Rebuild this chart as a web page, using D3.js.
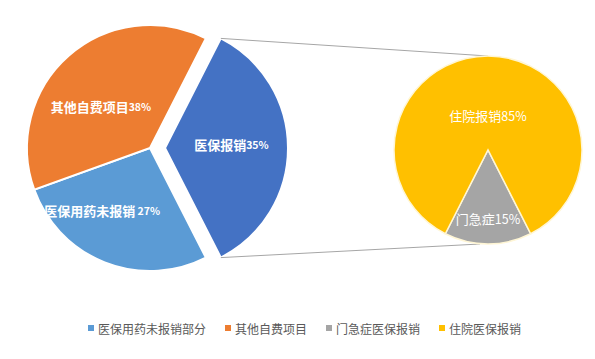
<!DOCTYPE html>
<html>
<head>
<meta charset="utf-8">
<script src="https://cdn.jsdelivr.net/npm/d3@7"></script>
<style>
  html, body { margin: 0; padding: 0; background: #fff; }
  svg { display: block; }
</style>
</head>
<body>
<svg id="chart" width="595" height="359"></svg>
<script>
// ---- data ----
const leftNames  = ["医保报销", "医保用药未报销", "其他自费项目"];
const leftValues = [35, 27, 38];
const leftPctText = ["35%", " 27%", "38%"];
const rightNames  = ["门急症", "住院报销"];
const rightValues = [15, 85];
const rightPctText = ["15%", "85%"];
const legendLabels = ["医保用药未报销部分", "其他自费项目", "门急症医保报销", "住院医保报销"];

// ---- styles ----
const leftColors  = ["#4472C4", "#5B9BD5", "#ED7D31"];
const rightColors = ["#A5A5A5", "#FFC000"];
const legendColors = ["#5B9BD5", "#ED7D31", "#A5A5A5", "#FFC000"];
const font = "'Noto Sans CJK SC', 'Noto Sans', sans-serif";

const svg = d3.select("#chart");
const deg = Math.PI / 180;

// ---- left pie ----
const L = { cx: 150, cy: 148, r: 123, explode: 15 };
const leftStart = 90 * deg - (leftValues[0] / 100) * Math.PI;
const leftPie = d3.pie().sort(null).value(d => d)
  .startAngle(leftStart).endAngle(leftStart + 2 * Math.PI);
const leftArcs = leftPie(leftValues);
const leftArc = d3.arc().innerRadius(0).outerRadius(L.r);

const gL = svg.append("g").attr("transform", `translate(${L.cx},${L.cy})`);
const offsetOf = (d, i) => {
  if (i !== 0) return [0, 0];
  const m = (d.startAngle + d.endAngle) / 2;
  return [L.explode * Math.sin(m), -L.explode * Math.cos(m)];
};
gL.selectAll("path").data(leftArcs).join("path")
  .attr("d", leftArc)
  .attr("transform", (d, i) => { const o = offsetOf(d, i); return `translate(${o[0]},${o[1]})`; })
  .attr("fill", (d, i) => leftColors[i])
  .attr("stroke", "#fff").attr("stroke-width", 2);

// label placement (radius fraction + nudge)
const leftLabelR = [0.54, 0.55, 0.53];
const leftLabelNudge = [[0, -4], [-23, -1], [-6, 7]];
const leftLabelPos = leftArcs.map((d, i) => {
  const o = offsetOf(d, i);
  const m = (d.startAngle + d.endAngle) / 2;
  const rr = L.r * leftLabelR[i];
  return [rr * Math.sin(m) + o[0] + leftLabelNudge[i][0], -rr * Math.cos(m) + o[1] + leftLabelNudge[i][1]];
});
gL.selectAll("text.lbl").data(leftArcs).join("text").attr("class", "lbl")
  .attr("x", (d, i) => leftLabelPos[i][0])
  .attr("y", (d, i) => leftLabelPos[i][1])
  .attr("text-anchor", "middle").attr("dominant-baseline", "central")
  .attr("font-family", font).attr("font-weight", "bold").attr("font-size", 13)
  .attr("fill", "#fff")
  .each(function(d, i) {
    const t = d3.select(this);
    t.append("tspan").text(leftNames[i]);
    t.append("tspan").attr("font-size", 10.5).text(leftPctText[i]);
  });

// ---- right pie ----
const R = { cx: 488, cy: 150, r: 94 };
const rStart = 180 * deg - (rightValues[0] / 100) * Math.PI;
const rightPie = d3.pie().sort(null).value(d => d)
  .startAngle(rStart).endAngle(rStart + 2 * Math.PI);
const rightArcs = rightPie(rightValues);
const rightArc = d3.arc().innerRadius(0).outerRadius(R.r);

// ---- connector lines ----
const b = leftArcs[0];
const bo = offsetOf(b, 0);
const p1 = [L.cx + bo[0] + L.r * Math.sin(b.startAngle), L.cy + bo[1] - L.r * Math.cos(b.startAngle)];
const p2 = [L.cx + bo[0] + L.r * Math.sin(b.endAngle), L.cy + bo[1] - L.r * Math.cos(b.endAngle)];
const q1 = [R.cx, R.cy - R.r];
const q2 = [R.cx - 8, R.cy + R.r];
svg.append("line").attr("x1", p1[0]).attr("y1", p1[1]).attr("x2", q1[0]).attr("y2", q1[1])
  .attr("stroke", "#a6a6a6").attr("stroke-width", 1);
svg.append("line").attr("x1", p2[0]).attr("y1", p2[1]).attr("x2", q2[0]).attr("y2", q2[1])
  .attr("stroke", "#a6a6a6").attr("stroke-width", 1);

const gR = svg.append("g").attr("transform", `translate(${R.cx},${R.cy})`);
gR.selectAll("path").data(rightArcs).join("path")
  .attr("d", rightArc)
  .attr("fill", (d, i) => rightColors[i])
  .attr("stroke", "#fff6d5").attr("stroke-width", 1.5);

const rightLabelR = [0.72, 0.37];
gR.selectAll("text").data(rightArcs).join("text")
  .attr("x", (d, i) => R.r * rightLabelR[i] * Math.sin((d.startAngle + d.endAngle) / 2))
  .attr("y", (d, i) => -R.r * rightLabelR[i] * Math.cos((d.startAngle + d.endAngle) / 2))
  .attr("text-anchor", "middle").attr("dominant-baseline", "central")
  .attr("font-family", font).attr("font-size", 13)
  .attr("fill", "#fff")
  .each(function(d, i) {
    const t = d3.select(this);
    t.append("tspan").text(rightNames[i]);
    t.append("tspan").attr("font-size", 12.5).text(rightPctText[i]);
  });

// ---- legend ----
const legendX = [88, 225, 326, 439];
const gLeg = svg.append("g").attr("transform", "translate(0,328)");
const items = gLeg.selectAll("g").data(legendLabels).join("g")
  .attr("transform", (d, i) => `translate(${legendX[i]},0)`);
items.append("rect").attr("x", 0).attr("y", -3).attr("width", 6).attr("height", 6)
  .attr("fill", (d, i) => legendColors[i]);
items.append("text").attr("x", 10).attr("y", 0).attr("dominant-baseline", "central")
  .attr("font-family", font).attr("font-size", 12).attr("fill", "#595959")
  .text(d => d);
</script>
</body>
</html>
